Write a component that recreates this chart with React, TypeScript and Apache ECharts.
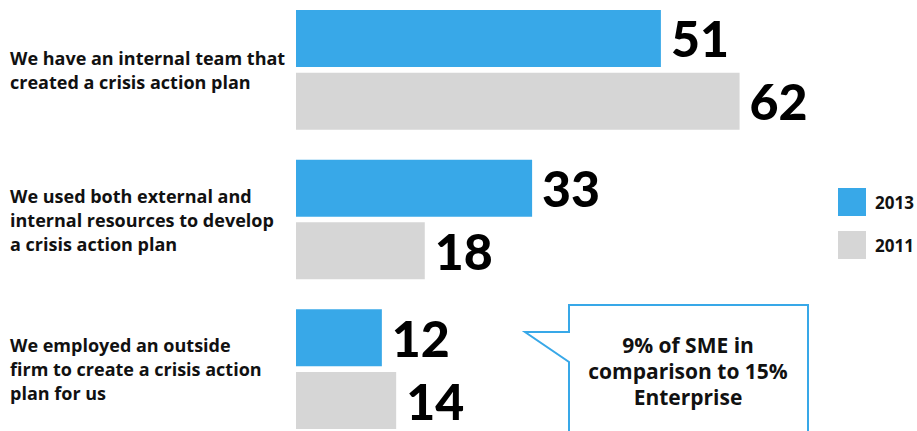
import React, { useEffect, useRef } from "react";
import * as echarts from "echarts";

const categories = [
  "We have an internal team that\ncreated a crisis action plan",
  "We used both external and\ninternal resources to develop\na crisis action plan",
  "We employed an outside\nfirm to create a crisis action\nplan for us",
];
const values2013 = [51, 33, 12];
const values2011 = [62, 18, 14];
const seriesNames = ["2013", "2011"];
const calloutText = "9% of SME in\ncomparison to 15%\nEnterprise";

const BLUE = "#38a8e8";
const GRAY = "#d6d6d6";
const FONT = "'Open Sans', Lato, sans-serif";
const NUMFONT = "Lato, 'Open Sans', sans-serif";
// container is shifted up by OFF px so the plot can extend above/below the page
const OFF = 20;

export default function App() {
  const ref = useRef<HTMLDivElement>(null);
  useEffect(() => {
    if (!ref.current) return;
    const chart = echarts.init(ref.current, null, { renderer: "svg" });
    const label = {
      show: true,
      position: "right" as const,
      distance: 10,
      color: "#000",
      fontSize: 50,
      fontWeight: 900 as any,
      fontFamily: NUMFONT,
    };
    chart.setOption({
      animation: false,
      backgroundColor: "#fff",
      grid: { left: 296, right: 20, top: OFF - 5, height: 449, containLabel: false },
      xAxis: { type: "value", min: 0, max: 84, show: false },
      yAxis: {
        type: "category",
        data: categories,
        inverse: true,
        axisLine: { show: false },
        axisTick: { show: false },
        splitLine: { show: false },
        axisLabel: {
          align: "left",
          margin: 286,
          color: "#111",
          fontSize: 18,
          fontWeight: "bold",
          fontFamily: FONT,
          lineHeight: 24,
        },
      },
      legend: {
        orient: "vertical",
        left: 838,
        top: 188 + OFF,
        padding: 0,
        itemWidth: 28,
        itemHeight: 28,
        itemGap: 15,
        icon: "rect",
        data: seriesNames,
        textStyle: {
          fontSize: 17,
          fontWeight: "bold",
          color: "#111",
          fontFamily: FONT,
          padding: [0, 0, 0, 4],
        },
      },
      series: [
        {
          name: seriesNames[0],
          type: "bar",
          data: values2013,
          barWidth: 57,
          barGap: "10%",
          itemStyle: { color: BLUE },
          label,
        },
        {
          name: seriesNames[1],
          type: "bar",
          data: values2011,
          barWidth: 57,
          barGap: "10%",
          itemStyle: { color: GRAY },
          label,
        },
      ],
      graphic: [
        {
          type: "polygon",
          shape: {
            points: [
              [569, 445 + OFF],
              [569, 362 + OFF],
              [525, 332 + OFF],
              [569, 332 + OFF],
              [569, 305 + OFF],
              [808, 305 + OFF],
              [808, 445 + OFF],
            ],
          },
          style: { fill: "#fff", stroke: BLUE, lineWidth: 2 },
          z: 10,
        },
        {
          type: "text",
          x: 688,
          y: 332 + OFF,
          z: 11,
          style: {
            text: calloutText,
            fill: "#111",
            font: `bold 21px ${FONT}`,
            textAlign: "center",
            lineHeight: 26,
          },
        },
      ],
    });
    return () => chart.dispose();
  }, []);
  return (
    <div
      ref={ref}
      style={{ position: "fixed", left: 0, top: -OFF, width: 917, height: 431 + 2 * OFF }}
    />
  );
}
